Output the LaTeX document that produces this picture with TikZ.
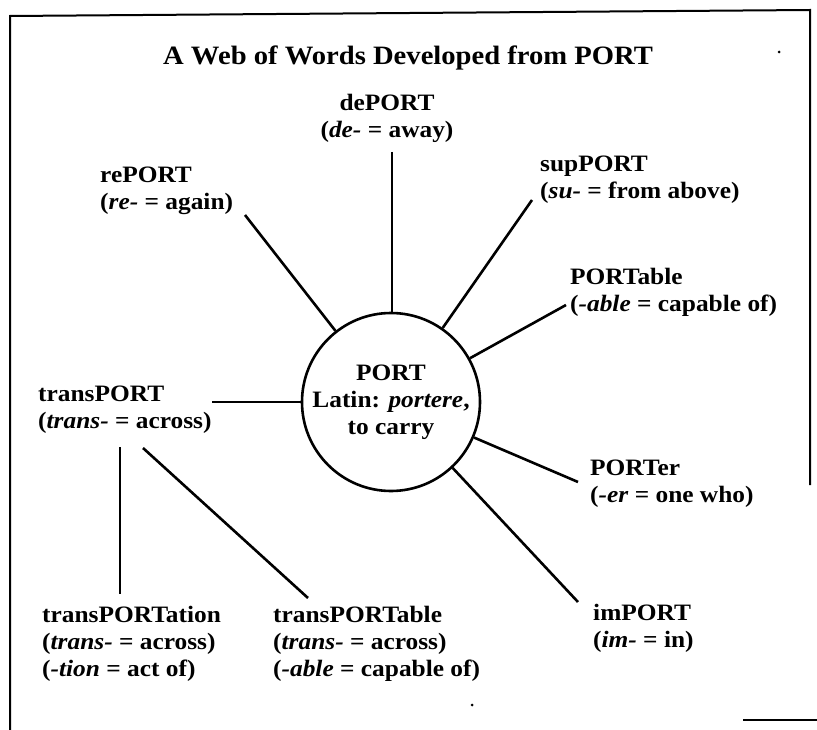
\documentclass[tikz,border=0pt]{standalone}
\usepackage{fontspec}
\setmainfont[FakeStretch=1.08]{Liberation Serif}
\newcommand\wordfont{\fontsize{23.5}{27}\selectfont\bfseries}
\newcommand\titlefont{\fontsize{26.5}{30}\selectfont\bfseries}
\begin{document}
\begin{tikzpicture}[x=1pt,y=-1pt,
  lbl/.style={anchor=base west, inner sep=0pt, align=left, font=\wordfont},
  lblc/.style={anchor=base, inner sep=0pt, align=center, font=\wordfont},
  link/.style={line width=2.6pt},
  frame/.style={line width=2pt}]
\useasboundingbox (0,0) rectangle (817,730);
% frame
\draw[frame] (10,730) -- (10,16) -- (810,10) -- (810,485);
\draw[frame] (743,720) -- (817,720);
\fill (779,52) circle (1.5);
\fill (472,705) circle (1.5);
% title (anchored at the baseline of its left end)
\node[anchor=base west, inner sep=0pt, font=\titlefont] (title) at (163,65) {A Web of Words Developed from PORT};
% centre
\node[circle, draw, line width=2.6pt, minimum size=178pt, inner sep=0pt, align=center, font=\wordfont] (port) at (391,402)
  {PORT\\Latin: \textit{portere},\\to carry};
% words (base anchor = baseline of the last line)
\node[lblc] (de) at (387,138) {dePORT\\(\textit{de-} = away)};
\node[lbl] (re) at (100,210) {rePORT\\(\textit{re-} = again)};
\node[lbl] (sup) at (540,199) {supPORT\\(\textit{su-} = from above)};
\node[lbl] (pa) at (570,312) {PORTable\\(\textit{-able} = capable of)};
\node[lbl] (tp) at (38,428) {transPORT\\(\textit{trans-} = across)};
\node[lbl] (per) at (590,502) {PORTer\\(\textit{-er} = one who)};
\node[lbl] (im) at (593,647) {imPORT\\(\textit{im-} = in)};
\node[lbl] (tpn) at (42,676) {transPORTation\\(\textit{trans-} = across)\\(\textit{-tion} = act of)};
\node[lbl] (tpb) at (273,676) {transPORTable\\(\textit{trans-} = across)\\(\textit{-able} = capable of)};
% connector ends
\coordinate (de-e) at (392,152);
\coordinate (re-e) at (245,215);
\coordinate (sup-e) at (532,200);
\coordinate (pa-e) at (566,305);
\coordinate (tp-e) at (212,402);
\coordinate (per-e) at (578,482);
\coordinate (im-e) at (578,602);
\coordinate (tpa) at (120,447);
\coordinate (tpn-e) at (120,594);
\coordinate (tpb-a) at (143,448);
\coordinate (tpb-e) at (308,598);
\draw[link] (de-e) -- (de-e |- port.north);
\draw[link] (re-e) -- (port);
\draw[link] (sup-e) -- (port);
\draw[link] (pa-e) -- (port);
\draw[link] (tp-e) -- (tp-e -| port.west);
\draw[link] (per-e) -- (port);
\draw[link] (im-e) -- (port);
\draw[link] (tpa) -- (tpn-e);
\draw[link] (tpb-a) -- (tpb-e);
\end{tikzpicture}
\end{document}
